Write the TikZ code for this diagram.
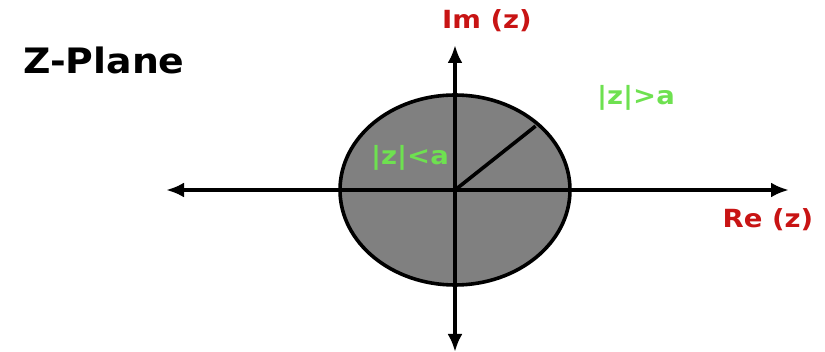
\documentclass[tikz,border=0pt]{standalone}
\usepackage{fontspec}
\setmainfont{DejaVu Sans}
\newfontfamily\titlefont[FakeStretch=1.08]{DejaVu Sans}
\newfontfamily\labelfont[FakeStretch=1.1]{DejaVu Sans}
\usetikzlibrary{arrows.meta}
\definecolor{labred}{RGB}{200,20,20}
\definecolor{labgreen}{RGB}{110,225,80}
\definecolor{diskgray}{RGB}{128,128,128}
\begin{document}
\begin{tikzpicture}[x=1pt,y=-1pt,
  axis/.style={line width=3.6pt,-{Latex[length=18pt,width=15pt]}},
  redlabel/.style={text=labred,font=\labelfont\fontsize{25}{28}\selectfont\bfseries},
  greenlabel/.style={text=labgreen,font=\labelfont\fontsize{25}{28}\selectfont\bfseries}]
\useasboundingbox (0,0) rectangle (825,352);
\coordinate (O) at (455,190);
\coordinate (left) at (166,190);
\coordinate (right) at (789,190);
\coordinate (top) at (455,45);
\coordinate (bottom) at (455,352);
\draw[line width=3.6pt,fill=diskgray] (O) ellipse[x radius=115,y radius=95];
\draw[axis] (O)--(left);
\draw[axis] (O)--(right);
\draw[axis] (O)--(top);
\draw[axis] (O)--(bottom);
\draw[line width=3.6pt] (O)--++(-44:112 and 92) coordinate (R);
\node[font=\titlefont\fontsize{35}{40}\selectfont\bfseries] (title) at (104,60) {Z-Plane};
\node[redlabel] (im) at (487,21) {Im (z)};
\node[redlabel] (re) at (768,220) {Re (z)};
\node[greenlabel] (outside) at (636,98) {|z|>a};
\node[greenlabel] (inside) at (410,158) {|z|<a};
\end{tikzpicture}
\end{document}
